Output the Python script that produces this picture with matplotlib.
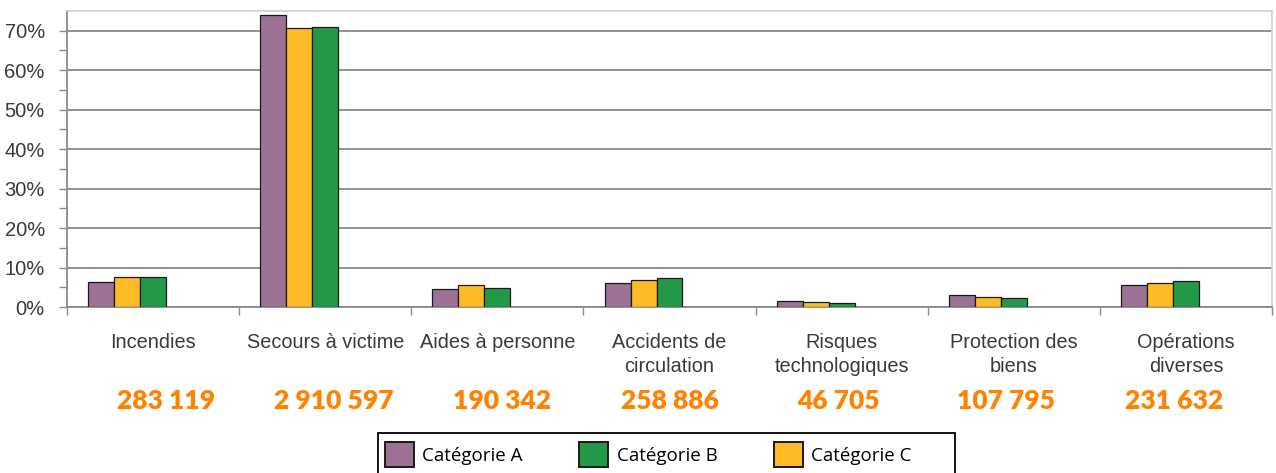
import matplotlib
matplotlib.use("Agg")
import matplotlib.pyplot as plt
from matplotlib.patches import Patch, Rectangle
import numpy as np

categories = ["Incendies", "Secours à victime", "Aides à personne",
              "Accidents de\ncirculation", "Risques\ntechnologiques",
              "Protection des\nbiens", "Opérations\ndiverses"]
totals = ["283 119", "2 910 597", "190 342", "258 886", "46 705", "107 795", "231 632"]
cat_a = [6.4, 74.1, 4.6, 6.0, 1.5, 3.1, 5.6]
cat_c = [7.5, 70.7, 5.6, 6.9, 1.3, 2.6, 6.2]
cat_b = [7.5, 71.0, 4.8, 7.3, 1.1, 2.3, 6.6]
yticks = [0, 10, 20, 30, 40, 50, 60, 70]

col_a = "#9C7194"
col_b = "#239948"
col_c = "#FDBB26"
orange = "#FF8200"
txt = "#3a3a3a"

W, H = 1276, 473
fig = plt.figure(figsize=(W / 100, H / 100), dpi=100)
ax = fig.add_axes([67 / W, 1 - 307 / H, (1272 - 67) / W, (307 - 11) / H])

x = np.arange(len(categories))
w = 0.151
edge = dict(edgecolor="#1a1a1a", linewidth=0.9, zorder=3)
ax.bar(x - 2 * w, cat_a, w, color=col_a, **edge)
ax.bar(x - w, cat_c, w, color=col_c, **edge)
ax.bar(x, cat_b, w, color=col_b, **edge)

ax.set_xlim(-0.5, len(categories) - 0.5)
ax.set_ylim(0, 75)

ax.set_yticks(yticks)
ax.set_yticklabels([f"{v}%" for v in yticks])
ax.set_yticks(np.arange(5, 75, 10), minor=True)
ax.yaxis.grid(True, which="major", color="#8a8a8a", linewidth=1.3, zorder=0)
ax.set_axisbelow(True)
ax.tick_params(axis="y", which="both", direction="out", length=6, width=1,
               color="#8a8a8a", labelsize=14.5, labelcolor=txt, pad=10)

ax.set_xticks(x)
ax.set_xticklabels(categories, linespacing=1.32)
ax.set_xticks(np.arange(-0.5, len(categories), 1.0), minor=True)
ax.tick_params(axis="x", which="major", length=0, labelsize=14.3, labelcolor=txt, pad=19)
ax.tick_params(axis="x", which="minor", length=6, width=1, color="#8a8a8a", direction="out")
for lbl in ax.get_xticklabels():
    lbl.set_verticalalignment("top")

for sp in ["left", "bottom"]:
    ax.spines[sp].set_color("#8a8a8a")
    ax.spines[sp].set_linewidth(1.3)
for sp in ["top", "right"]:
    ax.spines[sp].set_color("#d0d0d0")
    ax.spines[sp].set_linewidth(1.2)

for lbl in ax.get_xticklabels() + ax.get_yticklabels():
    lbl.set_fontfamily(["Liberation Sans", "DejaVu Sans"])

for i, t in enumerate(totals):
    fig.text((166 + 168.0 * i) / W, 1 - 401 / H, t, ha="center", va="center",
             fontsize=19, fontweight="heavy", color=orange, family=["Lato", "DejaVu Sans"])

# legend frame (extends past the bottom edge, as in the reference)
fig.patches.append(Rectangle((378 / W, 1 - 485 / H), (955 - 378) / W, (485 - 433) / H,
                             transform=fig.transFigure, facecolor="white",
                             edgecolor="black", linewidth=1.3, zorder=1))

handles = [Patch(facecolor=col_a, edgecolor="#1a1a1a", linewidth=1.4, label="Catégorie A"),
           Patch(facecolor=col_b, edgecolor="#1a1a1a", linewidth=1.4, label="Catégorie B"),
           Patch(facecolor=col_c, edgecolor="#1a1a1a", linewidth=1.4, label="Catégorie C")]
leg = fig.legend(handles=handles, loc="upper left", bbox_to_anchor=(382 / W, 1 - 439 / H),
                 ncol=3, frameon=False,
                 prop={"family": ["Open Sans", "DejaVu Sans"], "size": 13.5},
                 handlelength=1.55, handleheight=1.7, handletextpad=0.45, columnspacing=3.0,
                 borderpad=0.15, borderaxespad=0)
leg.set_zorder(2)

fig.savefig("out.png", dpi=100)
